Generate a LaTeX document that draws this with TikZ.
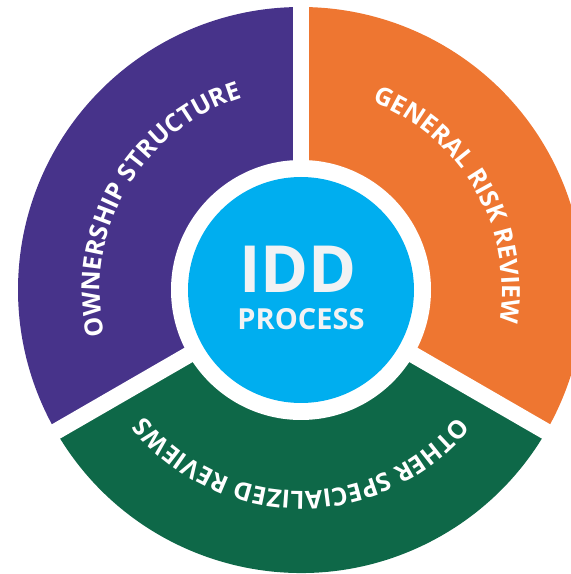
\documentclass[tikz,border=0pt]{standalone}
\usepackage{fontspec}
\setmainfont{Open Sans}
\usetikzlibrary{decorations.text}
\definecolor{cpurple}{HTML}{47338A}
\definecolor{corange}{HTML}{EE7631}
\definecolor{cgreen}{HTML}{0E6848}
\definecolor{cblue}{HTML}{00AEEF}
\definecolor{cidd}{HTML}{F1F2F4}
\newcommand{\segfont}{\bfseries\fontsize{25}{25}\selectfont}
\tikzset{
  sector/.style={draw=none},
  gap/.style={white, line width=16.5pt},
  arclabel/.style={decorate, decoration={text along path, text align=center, text color=white, text={|\segfont|#1}}}
}
\begin{document}
\begin{tikzpicture}[x=1pt,y=1pt]
\useasboundingbox (0,0) rectangle (571,574);
\clip (0,0) rectangle (571,574);
\coordinate (c) at (301,284);
\fill[cpurple] (c) -- ++(90:283) arc[start angle=90,end angle=210,radius=283] -- cycle;
\fill[corange] (c) -- ++(-30:283) arc[start angle=-30,end angle=90,radius=283] -- cycle;
\fill[cgreen] (c) -- ++(210:283) arc[start angle=210,end angle=330,radius=283] -- cycle;
\foreach \a in {90,210,330} \draw[gap] (c) -- ++(\a:300);
\fill[white] (c) circle[radius=130];
\node[circle, fill=cblue, minimum size=226pt, inner sep=0pt] (hub) at (c) {};
\node[anchor=base, text=cidd, font=\bfseries\fontsize{65}{65}\selectfont, inner sep=0pt] (idd) at (298,281) {IDD};
\node[anchor=base, text=cidd, font=\bfseries\fontsize{29}{29}\selectfont, inner sep=0pt] (proc) at (301,244) {PROCESS};
\path[arclabel={OWNERSHIP STRUCTURE}] ([shift={(215:201)}]c) arc[start angle=215,end angle=85,radius=201];
\path[arclabel={GENERAL RISK REVIEW}] ([shift={(95:201)}]c) arc[start angle=95,end angle=-35,radius=201];
\path[arclabel={OTHER SPECIALIZED REVIEWS}] ([shift={(-25:201)}]c) arc[start angle=-25,end angle=-155,radius=201];
\end{tikzpicture}
\end{document}
